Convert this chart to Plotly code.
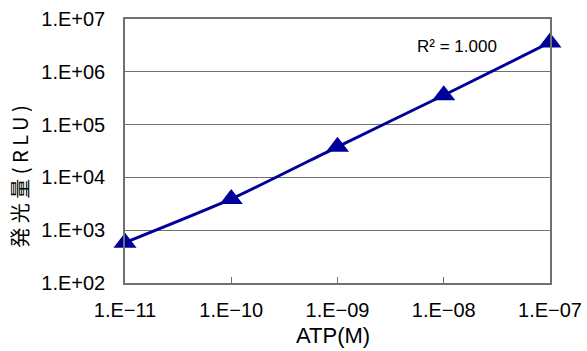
import plotly.graph_objects as go

atp_conc = [1e-11, 1e-10, 1e-9, 1e-8, 1e-7]
rlu = [5.8e2, 3.9e3, 3.8e4, 3.6e5, 3.6e6]

x_tickvals = [1e-11, 1e-10, 1e-9, 1e-8, 1e-7]
x_ticktext = ["1.E\u221211", "1.E\u221210", "1.E\u221209", "1.E\u221208", "1.E\u221207"]
y_tickvals = [1e2, 1e3, 1e4, 1e5, 1e6, 1e7]
y_ticktext = ["1.E+02", "1.E+03", "1.E+04", "1.E+05", "1.E+06", "1.E+07"]

x_title = "ATP(M)"
y_title = "発光量(RLU)"
r2_label = "R\u00b2 = 1.000"

navy = "#000099"
grid = "#707070"
font_main = "Liberation Sans, Arial, sans-serif"

fig = go.Figure()
fig.add_trace(go.Scatter(
    x=atp_conc, y=rlu, mode="lines+markers",
    line=dict(color=navy, width=3, shape="spline", smoothing=0.6),
    marker=dict(symbol="triangle-up", size=20, color=navy),
    cliponaxis=False, showlegend=False,
))

fig.add_annotation(
    x=0.78, y=0.894, xref="paper", yref="paper",
    xanchor="center", yanchor="middle",
    text=r2_label, showarrow=False,
    font=dict(family=font_main, size=17, color="#000000"),
)
fig.add_annotation(
    x=-0.249, y=0.411, xref="paper", yref="paper",
    xanchor="center", yanchor="middle",
    text='<span style="letter-spacing:4.5px">' + y_title + '</span>',
    textangle=-90, showarrow=False,
    font=dict(family="Noto Sans CJK JP, sans-serif", size=20, color="#000000"),
)
fig.add_annotation(
    x=0.49, y=-0.2, xref="paper", yref="paper",
    xanchor="center", yanchor="middle",
    text=x_title, showarrow=False,
    font=dict(family=font_main, size=22, color="#000000"),
)

fig.update_layout(
    width=587, height=351,
    margin=dict(l=125, r=37, t=19, b=68),
    paper_bgcolor="white", plot_bgcolor="white",
    font=dict(family=font_main, size=20, color="#000000"),
    xaxis=dict(
        type="log", range=[-11, -7],
        tickvals=x_tickvals, ticktext=x_ticktext,
        ticks="inside", ticklen=6, tickcolor=grid, tickwidth=1,
        ticklabelstandoff=8,
        showgrid=False, showline=True, linecolor=grid, linewidth=1.5, mirror=True,
        zeroline=False, automargin=False,
        tickfont=dict(size=20),
    ),
    yaxis=dict(
        type="log", range=[2, 7],
        tickvals=y_tickvals, ticktext=y_ticktext,
        showgrid=True, gridcolor=grid, gridwidth=1,
        showline=True, linecolor=grid, linewidth=1.5, mirror=True,
        zeroline=False, ticks="", automargin=False,
        ticklabelstandoff=14,
        tickfont=dict(size=20),
    ),
)

fig.write_html("out.html", config={"displayModeBar": False},
               post_script="document.body.style.margin='0';")
